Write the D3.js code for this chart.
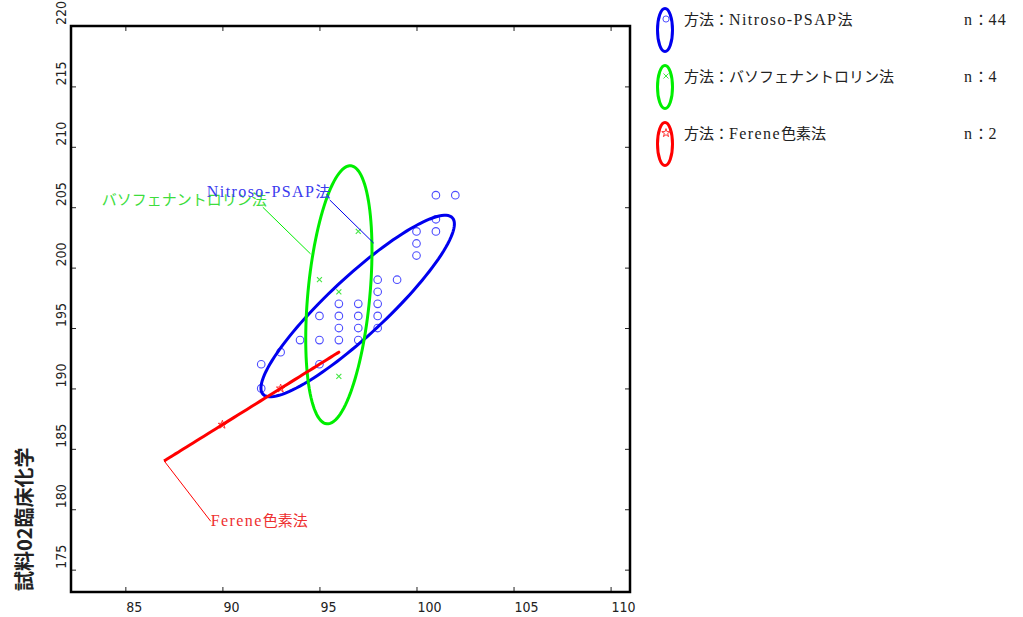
<!DOCTYPE html>
<html>
<head>
<meta charset="utf-8">
<script src="https://cdn.jsdelivr.net/npm/d3@7"></script>
<style>
  body { margin: 0; background: #fff; }
  svg { display: block; }
</style>
</head>
<body>
<div id="chart"></div>
<script>
// ---- data ----
const methods = ['Nitroso-PSAP法', 'バソフェナントロリン法', 'Ferene色素法'];

// Nitroso-PSAP: 44 samples, many overlap
const nitrosoX = [102, 101, 101, 101, 100, 100, 100, 98, 99, 98, 98, 98, 98, 97, 97, 97, 97, 96, 96, 96, 96, 95, 95, 94, 93, 92, 92, 95,
  96, 97, 96, 97, 96, 97, 95, 95, 96, 97, 98, 98, 96, 97, 95, 94];
const nitrosoY = [206, 206, 204, 203, 203, 202, 201, 199, 199, 198, 197, 196, 195, 197, 196, 195, 194, 197, 196, 195, 194, 196, 194, 194, 193, 192, 190, 192,
  196, 196, 195, 195, 194, 194, 196, 194, 197, 197, 197, 196, 196, 195, 194, 194];

const bathoX = [97, 95, 96, 96];
const bathoY = [203, 199, 198, 191];

const fereneX = [90, 93];
const fereneY = [187, 190];

// ellipse per method: centre, first and second semi axis (data units)
const ellipseCenter = [[96.97, 196.82], [96.0, 197.75], [91.5, 188.5]];
const ellipseAxisA = [[4.88, 7.30], [0.62, 10.68], [4.5, 4.5]];
const ellipseAxisB = [[1.01, -1.77], [1.59, -0.24], [0, 0]];

const xTicks = [85, 90, 95, 100, 105, 110];
const yTicks = [175, 180, 185, 190, 195, 200, 205, 210, 215, 220];
const yTitle = '試料02臨床化学';

// ---- layout ----
const width = 1023, height = 617;
const plot = { left: 71, right: 630, top: 26, bottom: 592 };
const colors = ['#0000ee', '#00ee00', '#ff0000'];
const markColors = ['#4d4dff', '#44e644', '#ff3333'];
const labelColors = ['#3a3aee', '#3ddd3d', '#ee3030'];
const serif = '"Liberation Serif", "Noto Sans CJK JP", serif';
const narrow = '"Liberation Sans Narrow", "DejaVu Sans Condensed", sans-serif';

const x = d3.scaleLinear().domain([82.2, 111]).range([plot.left, plot.right]);
const y = d3.scaleLinear().domain([173.15, 220]).range([plot.bottom, plot.top]);

const svg = d3.select('#chart').append('svg')
  .attr('width', width)
  .attr('height', height);

// mixed latin / cjk text: latin runs get a little extra width like the mincho original
function richText(sel, str, size) {
  const runs = str.match(/[\x00-\xff]+|[^\x00-\xff]+/g);
  runs.forEach((r) => {
    const t = sel.append('tspan').text(r);
    if (/^[\x00-\xff]/.test(r)) {
      t.style('font-size', `${size + 1}px`).style('letter-spacing', '1.4px');
    }
  });
  return sel;
}

function ellipsePoints(i) {
  const [cx, cy] = ellipseCenter[i];
  const [ax, ay] = ellipseAxisA[i];
  const [bx, by] = ellipseAxisB[i];
  return d3.range(0, 361, 3).map((deg) => {
    const t = (deg * Math.PI) / 180;
    return [cx + Math.cos(t) * ax + Math.sin(t) * bx, cy + Math.cos(t) * ay + Math.sin(t) * by];
  });
}

const line = d3.line().x((d) => x(d[0])).y((d) => y(d[1]));

// ---- axes (ticks inward on all sides) ----
const axisG = svg.append('g');
axisG.append('g')
  .attr('transform', `translate(0,${plot.bottom})`)
  .call(d3.axisBottom(x).tickValues(xTicks).tickSize(-5).tickFormat(''))
  .call((g) => g.select('.domain').remove());
axisG.append('g')
  .attr('transform', `translate(0,${plot.top})`)
  .call(d3.axisTop(x).tickValues(xTicks).tickSize(-5).tickFormat(''))
  .call((g) => g.select('.domain').remove());
axisG.append('g')
  .attr('transform', `translate(${plot.left},0)`)
  .call(d3.axisLeft(y).tickValues(yTicks).tickSize(-5).tickFormat(''))
  .call((g) => g.select('.domain').remove());
axisG.append('g')
  .attr('transform', `translate(${plot.right},0)`)
  .call(d3.axisRight(y).tickValues(yTicks).tickSize(-5).tickFormat(''))
  .call((g) => g.select('.domain').remove());
axisG.selectAll('.tick line').attr('stroke', '#222');

// tick labels start at the tick, like the original
svg.append('g').selectAll('text')
  .data(xTicks)
  .enter()
  .append('text')
  .attr('x', (d) => x(d) + 1)
  .attr('y', 612)
  .style('font-family', narrow)
  .style('font-size', '14px')
  .attr('fill', '#222')
  .text((d) => d);

svg.append('g').selectAll('text')
  .data(yTicks)
  .enter()
  .append('text')
  .attr('transform', (d) => `translate(66,${y(d) - 1}) rotate(-90)`)
  .style('font-family', narrow)
  .style('font-size', '14px')
  .attr('fill', '#222')
  .text((d) => d);

svg.append('text')
  .attr('transform', `translate(32,${plot.bottom - 1}) rotate(-90)`)
  .style('font-family', '"Noto Sans CJK JP", sans-serif')
  .style('font-size', '20px')
  .style('font-weight', 'bold')
  .attr('fill', '#222')
  .text(yTitle);

// ---- marks ----
const marks = svg.append('g');

// repeated results sit on the same spot: one ring per position
const nitrosoPts = Array.from(
  d3.rollup(nitrosoX.map((v, i) => [v, nitrosoY[i]]), (v) => v[0], (d) => `${d[0]}:${d[1]}`).values(),
);
marks.selectAll('circle')
  .data(nitrosoPts)
  .enter()
  .append('circle')
  .attr('cx', (d) => x(d[0]))
  .attr('cy', (d) => y(d[1]))
  .attr('r', 3.8)
  .attr('fill', 'none')
  .attr('stroke', markColors[0])
  .attr('stroke-width', 1.1);

const cross = d3.symbol().type(d3.symbolX).size(18);
marks.selectAll('path.batho')
  .data(bathoX.map((v, i) => [v, bathoY[i]]))
  .enter()
  .append('path')
  .attr('class', 'batho')
  .attr('d', cross)
  .attr('transform', (d) => `translate(${x(d[0])},${y(d[1])})`)
  .attr('fill', 'none')
  .attr('stroke', markColors[1])
  .attr('stroke-width', 1.1);

const star = d3.symbol().type(d3.symbolStar).size(22);
marks.selectAll('path.ferene')
  .data(fereneX.map((v, i) => [v, fereneY[i]]))
  .enter()
  .append('path')
  .attr('class', 'ferene')
  .attr('d', star)
  .attr('transform', (d) => `translate(${x(d[0])},${y(d[1])})`)
  .attr('fill', 'none')
  .attr('stroke', markColors[2])
  .attr('stroke-width', 1);

// ellipses: blue, green, then red on top
[0, 1, 2].forEach((i) => {
  svg.append('path')
    .attr('d', line(ellipsePoints(i)))
    .attr('fill', 'none')
    .attr('stroke', colors[i])
    .attr('stroke-width', 3)
    .attr('stroke-linecap', 'round');
});

// ---- labels with leader lines (data coords) ----
const labels = [
  { i: 1, text: [83.79, 205.18], from: [92.08, 205.0], to: [94.54, 201.14] },
  { i: 0, text: [89.2, 205.84], from: [95.53, 205.6], to: [97.80, 202.02] },
  { i: 2, text: [89.4, 178.6], from: [89.4, 179.0], to: [87, 184] },
];
labels.forEach((l) => {
  svg.append('line')
    .attr('x1', x(l.from[0])).attr('y1', y(l.from[1]))
    .attr('x2', x(l.to[0])).attr('y2', y(l.to[1]))
    .attr('stroke', colors[l.i])
    .attr('stroke-width', 1);
  const t = svg.append('text')
    .attr('x', x(l.text[0]))
    .attr('y', y(l.text[1]))
    .style('font-family', serif)
    .style('font-size', '15px')
    .attr('fill', labelColors[l.i]);
  richText(t, methods[l.i], 15);
});

// ---- frame ----
svg.append('rect')
  .attr('x', plot.left)
  .attr('y', plot.top)
  .attr('width', plot.right - plot.left)
  .attr('height', plot.bottom - plot.top)
  .attr('fill', 'none')
  .attr('stroke', '#000')
  .attr('stroke-width', 2.5);

// ---- legend ----
const counts = [nitrosoX.length, bathoX.length, fereneX.length];
const legendSymbols = [d3.symbol().type(d3.symbolCircle).size(30), cross, star];
const legend = svg.append('g').attr('transform', 'translate(665,30)');
methods.forEach((m, i) => {
  const row = legend.append('g').attr('transform', `translate(0,${i * 57})`);
  row.append('ellipse')
    .attr('rx', 7.5).attr('ry', 21.5)
    .attr('fill', 'none')
    .attr('stroke', colors[i])
    .attr('stroke-width', 3);
  row.append('path')
    .attr('d', legendSymbols[i])
    .attr('transform', 'translate(1,-11)')
    .attr('fill', 'none')
    .attr('stroke', markColors[i])
    .attr('stroke-width', 1);
  const t = row.append('text')
    .attr('x', 19).attr('y', -5)
    .style('font-family', serif)
    .style('font-size', '15px')
    .attr('fill', '#222');
  richText(t, `方法：${m}`, 15);
  const n = row.append('text')
    .attr('x', 299).attr('y', -5)
    .style('font-family', serif)
    .style('font-size', '15px')
    .attr('fill', '#222');
  richText(n, `n：${counts[i]}`, 15);
});
</script>
</body>
</html>
